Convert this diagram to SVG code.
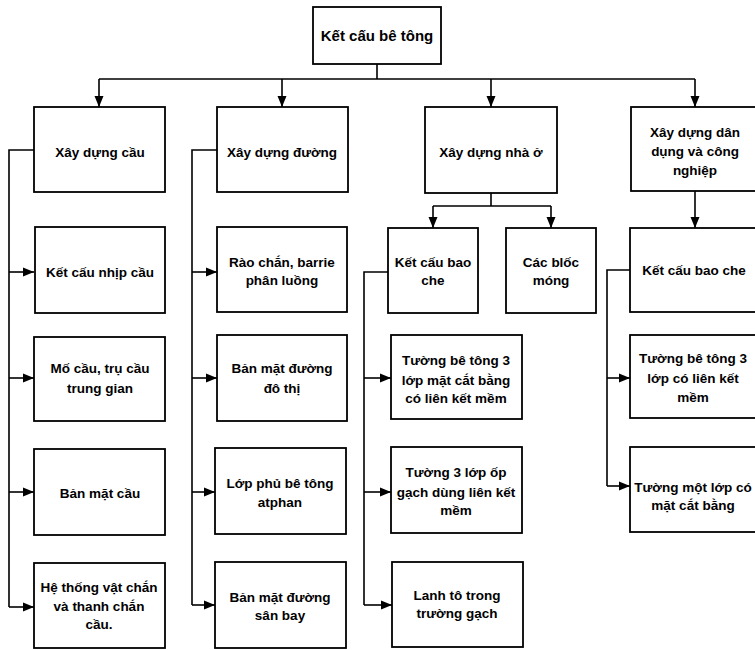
<svg xmlns="http://www.w3.org/2000/svg" width="755" height="650" viewBox="0 0 755 650">
<style>
.box{fill:#fff;stroke:#000;stroke-width:1.8}
.t{font-family:"Liberation Sans",Arial,sans-serif;font-weight:bold;font-size:13.5px;fill:#000;text-anchor:middle}
.c{fill:none;stroke:#000;stroke-width:1.6}
</style>
<defs>
<marker id="ah" markerUnits="userSpaceOnUse" markerWidth="11" markerHeight="10" refX="11" refY="5" orient="auto">
<path d="M0,0.5 L11,5 L0,9.5 z" fill="#000"/>
</marker>
</defs>
<rect width="755" height="650" fill="#fff"/>
<g id="connectors">
<path class="c" d="M377,64 V79 M99,79 H695"/>
<path class="c" d="M99,79 V107" marker-end="url(#ah)"/>
<path class="c" d="M282,79 V107" marker-end="url(#ah)"/>
<path class="c" d="M491,79 V107" marker-end="url(#ah)"/>
<path class="c" d="M695,79 V107" marker-end="url(#ah)"/>
<path class="c" d="M34,150 H9 V607"/>
<path class="c" d="M9,272 H34" marker-end="url(#ah)"/>
<path class="c" d="M9,378 H34" marker-end="url(#ah)"/>
<path class="c" d="M9,492 H34" marker-end="url(#ah)"/>
<path class="c" d="M9,607 H34" marker-end="url(#ah)"/>
<path class="c" d="M217,150 H192 V605"/>
<path class="c" d="M192,272 H217" marker-end="url(#ah)"/>
<path class="c" d="M192,378 H217" marker-end="url(#ah)"/>
<path class="c" d="M192,492 H215" marker-end="url(#ah)"/>
<path class="c" d="M192,605 H215" marker-end="url(#ah)"/>
<path class="c" d="M491,193 V206 M433,206 H551"/>
<path class="c" d="M433,206 V228" marker-end="url(#ah)"/>
<path class="c" d="M551,206 V228" marker-end="url(#ah)"/>
<path class="c" d="M388,272 H364 V605"/>
<path class="c" d="M364,378 H391" marker-end="url(#ah)"/>
<path class="c" d="M364,492 H391" marker-end="url(#ah)"/>
<path class="c" d="M364,605 H392" marker-end="url(#ah)"/>
<path class="c" d="M695,191 V228" marker-end="url(#ah)"/>
<path class="c" d="M630,270 H607 V486"/>
<path class="c" d="M607,378 H630" marker-end="url(#ah)"/>
<path class="c" d="M607,486 H630" marker-end="url(#ah)"/>
</g>
<g id="root"><rect class="box" x="313" y="7" width="128" height="57"/><text class="t" x="377" y="41" style="font-size:15px">Kết cấu bê tông</text></g>
<g id="xd-cau"><rect class="box" x="34" y="107" width="131" height="85"/><text class="t" x="100" y="157">Xây dựng cầu</text></g>
<g id="ket-cau-nhip-cau"><rect class="box" x="35" y="227" width="130" height="86"/><text class="t" x="100" y="277">Kết cấu nhịp cầu</text></g>
<g id="mo-cau"><rect class="box" x="34" y="337" width="131" height="84"/><text class="t" x="100" y="373">Mố cầu, trụ cầu</text><text class="t" x="100" y="393">trung gian</text></g>
<g id="ban-mat-cau"><rect class="box" x="34" y="449" width="131" height="86"/><text class="t" x="100" y="498">Bản mặt cầu</text></g>
<g id="he-thong"><rect class="box" x="34" y="563" width="131" height="85"/><text class="t" x="99" y="592">Hệ thống vật chắn</text><text class="t" x="99" y="611">và thanh chắn</text><text class="t" x="99" y="629">cầu.</text></g>
<g id="xd-duong"><rect class="box" x="217" y="107" width="131" height="85"/><text class="t" x="282" y="157">Xây dựng đường</text></g>
<g id="rao-chan"><rect class="box" x="217" y="227" width="130" height="85"/><text class="t" x="282" y="267">Rào chắn, barrie</text><text class="t" x="282" y="285">phân luồng</text></g>
<g id="ban-mat-duong-do-thi"><rect class="box" x="217" y="335" width="130" height="86"/><text class="t" x="282" y="373">Bản mặt đường</text><text class="t" x="282" y="393">đô thị</text></g>
<g id="lop-phu"><rect class="box" x="215" y="448" width="131" height="86"/><text class="t" x="280" y="488">Lớp phủ bê tông</text><text class="t" x="280" y="507">atphan</text></g>
<g id="ban-mat-duong-san-bay"><rect class="box" x="215" y="562" width="131" height="86"/><text class="t" x="280" y="602">Bản mặt đường</text><text class="t" x="280" y="620">sân bay</text></g>
<g id="xd-nha-o"><rect class="box" x="425" y="107" width="132" height="86"/><text class="t" x="491" y="157">Xây dựng nhà ở</text></g>
<g id="ket-cau-bao-che-1"><rect class="box" x="388" y="228" width="90" height="85"/><text class="t" x="433" y="267">Kết cấu bao</text><text class="t" x="433" y="285">che</text></g>
<g id="cac-bloc-mong"><rect class="box" x="506" y="228" width="90" height="85"/><text class="t" x="551" y="267">Các blốc</text><text class="t" x="551" y="285">móng</text></g>
<g id="tuong-3-lop-mat-cat"><rect class="box" x="391" y="335" width="131" height="84"/><text class="t" x="456" y="365">Tường bê tông 3</text><text class="t" x="456" y="385">lớp mặt cắt bằng</text><text class="t" x="456" y="403">có liên kết mềm</text></g>
<g id="tuong-3-lop-op-gach"><rect class="box" x="391" y="447" width="131" height="86"/><text class="t" x="456" y="477">Tường 3 lớp ốp</text><text class="t" x="456" y="497">gạch dùng liên kết</text><text class="t" x="456" y="515">mềm</text></g>
<g id="lanh-to"><rect class="box" x="392" y="562" width="131" height="85"/><text class="t" x="457" y="600">Lanh tô trong</text><text class="t" x="457" y="618">trường gạch</text></g>
<g id="xd-dan-dung"><rect class="box" x="631" y="107" width="131" height="84"/><text class="t" x="695" y="137">Xây dựng dân</text><text class="t" x="695" y="156">dụng và công</text><text class="t" x="695" y="175">nghiệp</text></g>
<g id="ket-cau-bao-che-2"><rect class="box" x="630" y="228" width="132" height="84"/><text class="t" x="694" y="275">Kết cấu bao che</text></g>
<g id="tuong-3-lop-lien-ket"><rect class="box" x="630" y="335" width="132" height="83"/><text class="t" x="693" y="363">Tường bê tông 3</text><text class="t" x="693" y="383">lớp có liên kết</text><text class="t" x="693" y="402">mềm</text></g>
<g id="tuong-mot-lop"><rect class="box" x="630" y="447" width="132" height="85"/><text class="t" x="693" y="492">Tường một lớp có</text><text class="t" x="693" y="510">mặt cắt bằng</text></g>
</svg>
